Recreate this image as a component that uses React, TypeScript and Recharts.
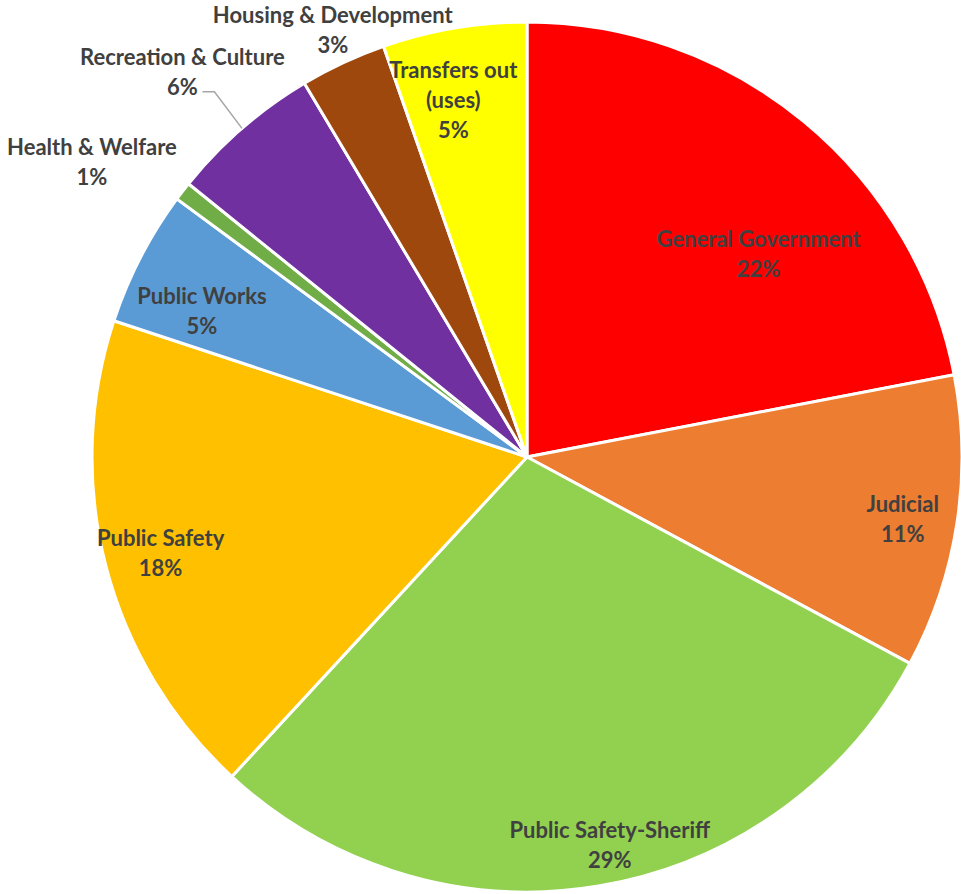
import { Pie, PieChart, Cell } from "recharts"

const categories = [
  "General Government",
  "Judicial",
  "Public Safety-Sheriff",
  "Public Safety",
  "Public Works",
  "Health & Welfare",
  "Recreation & Culture",
  "Housing & Development",
  "Transfers out (uses)",
]
const shares = [21.97, 10.9, 29.0, 18.2, 5.04, 0.7, 5.64, 3.2, 5.35]
const percentLabels = ["22%", "11%", "29%", "18%", "5%", "1%", "6%", "3%", "5%"]
// label lines as Excel wrapped them
const labelLines = [
  ["General Government"],
  ["Judicial"],
  ["Public Safety-Sheriff"],
  ["Public Safety"],
  ["Public Works"],
  ["Health & Welfare"],
  ["Recreation & Culture"],
  ["Housing & Development"],
  ["Transfers out", "(uses)"],
]

const colors = ["#ff0000", "#ed7d31", "#92d050", "#ffc000", "#5b9bd5", "#70ad47", "#7030a0", "#9e480e", "#ffff00"]

// label placement: radius factor and angle nudge (deg, clockwise)
const labelRadius = [0.71, 0.875, 0.91, 0.87, 0.82, 1.21, 1.19, 1.08, 0.84]
const labelNudge = [9, 0.5, -2.6, 0, -3, -3.4, -0.8, 0.6, -2]

const data = categories.map((name, i) => ({ name, value: shares[i] }))

const FONT = "Lato, 'Open Sans', sans-serif"
const LINE_H = 30

function renderLabel(props: any) {
  const { cx, cy, midAngle, outerRadius, index } = props
  // recharts angle: counter-clockwise from 3 o'clock; convert to clockwise-from-top
  const clock = 90 - midAngle + labelNudge[index]
  const rad = (clock * Math.PI) / 180
  const r = outerRadius * labelRadius[index]
  const x = cx + r * Math.sin(rad)
  const y = cy - r * Math.cos(rad)
  const lines = [...labelLines[index], percentLabels[index]]
  const top = y - ((lines.length - 1) * LINE_H) / 2

  let leader = null
  if (index === 6) {
    const m = ((90 - midAngle) * Math.PI) / 180
    const ex = cx + outerRadius * Math.sin(m)
    const ey = cy - outerRadius * Math.cos(m)
    leader = (
      <polyline
        points={`${x + 20},${y + 21} ${x + 32},${y + 21} ${ex},${ey}`}
        fill="none"
        stroke="#a6a6a6"
        strokeWidth={1.5}
      />
    )
  }

  return (
    <g key={`lbl-${index}`}>
      {leader}
      <text
        x={x}
        y={top}
        textAnchor="middle"
        dominantBaseline="central"
        fill="#404040"
        fontFamily={FONT}
        fontWeight={700}
        fontSize={22}
      >
        {lines.map((t, k) => (
          <tspan key={k} x={x} y={top + k * LINE_H}>
            {t}
          </tspan>
        ))}
      </text>
    </g>
  )
}

export default function App() {
  return (
    <div style={{ position: "absolute", left: 0, top: 0, background: "#fff" }}>
      <PieChart width={961} height={894} margin={{ top: 0, right: 0, bottom: 0, left: 0 }}>
        <Pie
          data={data}
          dataKey="value"
          nameKey="name"
          cx={527}
          cy={457}
          outerRadius={435}
          startAngle={90}
          endAngle={-270}
          stroke="#ffffff"
          strokeWidth={3}
          label={renderLabel}
          labelLine={false}
          isAnimationActive={false}
        >
          {data.map((d, i) => (
            <Cell key={d.name} fill={colors[i]} />
          ))}
        </Pie>
      </PieChart>
    </div>
  )
}
